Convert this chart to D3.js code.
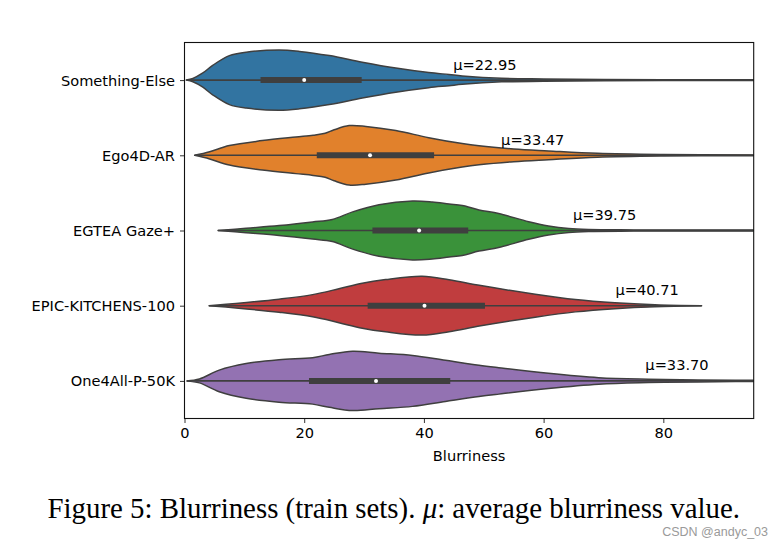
<!DOCTYPE html>
<html><head><meta charset="utf-8">
<script src="https://cdn.jsdelivr.net/npm/d3@7"></script>
<style>body{margin:0;background:#fff}svg{display:block}</style>
</head><body>
<script>
// ---- data ----
const categories = ["Something-Else","Ego4D-AR","EGTEA Gaze+","EPIC-KITCHENS-100","One4All-P-50K"];
const means = [22.95, 33.47, 39.75, 40.71, 33.70];
const labelAt = [44.9, 52.9, 64.9, 72.0, 77.0];
const q1 = [12.7, 22.1, 31.4, 30.6, 20.8];
const medians = [20.0, 31.0, 39.2, 40.1, 32.0];
const q3 = [29.6, 41.7, 47.4, 50.2, 44.4];
const whiskerLo = [0.3, 1.7, 5.6, 4.1, 0.4];
const whiskerHi = [100, 100, 100, 86.4, 100];
const xTicks = [0, 20, 40, 60, 80];
// density profiles [value, relative density]
const densSomething = [[0.3,0],[1.4,1.7],[3,7],[4.7,15],[7.5,25],[10.3,28.5],[15.8,30.7],[19.2,29.3],[24.2,25],[29.7,18.3],[35.3,12.3],[40.8,7.7],[44.2,5.7],[46.4,4.3],[53,1.8],[60,1.2],[70,0.7],[85,0.4],[100,0.3]];
const densEgo4D = [[1.7,0],[4.2,3.7],[7.5,10],[13,15],[18.6,18.7],[21.5,20.5],[23.5,22.5],[25,26],[27.5,30.3],[30.3,29.5],[35.3,25.3],[40.8,18],[46.4,12],[49.2,9.7],[55,6.5],[60.8,4.5],[69,2],[80,0.8],[95,0.4],[100,0.3]];
const densEgtea = [[5.6,0],[10.3,2.3],[15.8,5],[21.4,8.7],[24.7,11.3],[28.1,19],[32.5,26.3],[38.1,30],[41.4,29],[44.2,27],[46.4,25.5],[49.2,21],[52.5,17.3],[57.5,9],[60.8,4.7],[64.2,2],[67.5,1],[75,0.6],[100,0.4]];
const densEpic = [[4.1,0],[8.6,2.3],[15.8,6.7],[21.4,11.3],[25.8,17.3],[29.7,23],[33.6,26.7],[39.7,30],[44.2,26.5],[49.5,20.5],[58.6,11.7],[65.3,6.3],[71.9,3],[78.6,1],[86.4,0]];
const densOne4All = [[0.4,0],[2.5,2],[5.8,11],[10.3,17.7],[15.8,21.7],[21.4,23.7],[24.2,27],[28.1,30.3],[32.5,28.3],[38.1,26],[43.6,21],[49.2,16],[52.5,13.5],[60.8,7.7],[69.2,3.3],[77.5,1.7],[85.8,1],[100,0.4]];
const densities = [densSomething, densEgo4D, densEgtea, densEpic, densOne4All];
const colors = ["#3274a1","#e1812c","#3a923a","#c03d3e","#9372b2"];

const W = 781, H = 543;
const m = {left:184.5, right:W-753.7, top:42.5, bottom:H-418.5};
const svg = d3.select("body").append("svg").attr("width",W).attr("height",H);
const x = d3.scaleLinear().domain([0,95.1]).range([m.left, W-m.right]);
const y = d3.scalePoint().domain(categories).range([m.top, H-m.bottom]).padding(0.5);
const maxD = d3.max(densities.flat(), d=>d[1]);
const w = d3.scaleLinear().domain([0,maxD]).range([0, y.step()*0.4]);
const font = "DejaVu Sans, sans-serif";
const fs = 14.6;
const lineCol = "#3f3f3f";

svg.append("clipPath").attr("id","clip").append("rect")
  .attr("x",m.left).attr("y",m.top).attr("width",W-m.right-m.left).attr("height",H-m.bottom-m.top);
const g = svg.append("g").attr("clip-path","url(#clip)");

categories.forEach((c,i)=>{
  const cy = y(c);
  const area = d3.area().curve(d3.curveCatmullRom.alpha(0.5))
    .x(d=>x(d[0])).y0(d=>cy - w(d[1])).y1(d=>cy + w(d[1]));
  g.append("path").attr("d", area(densities[i]))
    .attr("fill", colors[i]).attr("stroke", lineCol).attr("stroke-width",1.5).attr("stroke-linejoin","round");
  g.append("line").attr("x1",x(whiskerLo[i])).attr("x2",x(whiskerHi[i])).attr("y1",cy).attr("y2",cy)
    .attr("stroke",lineCol).attr("stroke-width",1.6);
  g.append("line").attr("x1",x(q1[i])).attr("x2",x(q3[i])).attr("y1",cy).attr("y2",cy)
    .attr("stroke",lineCol).attr("stroke-width",6);
  g.append("circle").attr("cx",x(medians[i])).attr("cy",cy).attr("r",2).attr("fill","#fff");
  svg.append("text").attr("x",x(labelAt[i])).attr("y",cy-10.5)
    .attr("font-family",font).attr("font-size",fs).attr("fill","#000")
    .text("\u03bc=" + means[i].toFixed(2));
});

// axes
const xAxis = d3.axisBottom(x).tickValues(xTicks).tickSize(4.5).tickPadding(4);
const gx = svg.append("g").attr("transform",`translate(0,${H-m.bottom})`).call(xAxis);
const yAxis = d3.axisLeft(y).tickSize(4.5).tickPadding(5);
const gy = svg.append("g").attr("transform",`translate(${m.left},0)`).call(yAxis);
[gx,gy].forEach(a=>{
  a.select(".domain").remove();
  a.selectAll(".tick line").attr("stroke","#333").attr("stroke-width",1);
  a.selectAll("text").attr("font-family",font).attr("font-size",fs).attr("fill","#000");
});
gy.selectAll("text").attr("dy","0.34em");
gx.selectAll("text").attr("dy","0.72em");
svg.append("rect").attr("x",m.left).attr("y",m.top).attr("width",W-m.right-m.left).attr("height",H-m.bottom-m.top)
  .attr("fill","none").attr("stroke","#111").attr("stroke-width",1.1);

svg.append("text").attr("x",(m.left+W-m.right)/2).attr("y",460.5)
  .attr("text-anchor","middle").attr("font-family",font).attr("font-size",fs).text("Blurriness");

// caption
const cap = svg.append("text").attr("x",47.5).attr("y",518)
  .attr("font-family","Liberation Serif, Times New Roman, serif").attr("font-size",26).attr("fill","#000");
cap.append("tspan").text("Figure 5: Blurriness (train sets). ");
cap.append("tspan").attr("font-style","italic").text("\u03bc");
cap.append("tspan").text(": average blurriness value.");
const len = cap.node().getComputedTextLength();
cap.attr("font-size", 26*693/len);

svg.append("text").attr("x",768).attr("y",536).attr("text-anchor","end")
  .attr("font-family","Liberation Sans, Arial, sans-serif").attr("font-size",12.5).attr("fill","#9a9a9a")
  .text("CSDN @andyc_03");
</script>
</body></html>
